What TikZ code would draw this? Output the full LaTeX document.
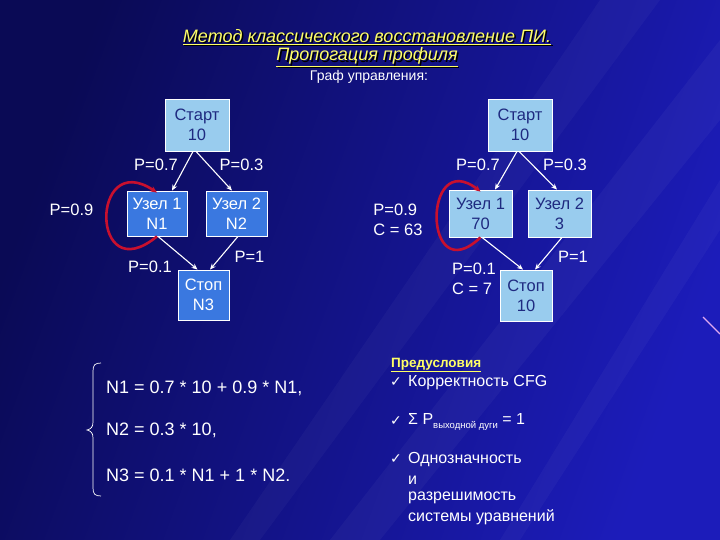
\documentclass[tikz,border=0pt]{standalone}
\usepackage{fontspec}
\setmainfont{Liberation Sans}
\newfontfamily\symfont{DejaVu Sans}
\usetikzlibrary{arrows.meta}
\definecolor{bgdark}{HTML}{0A0A55}
\definecolor{bgmid}{HTML}{1212A0}
\definecolor{bglight}{HTML}{1C1CBA}
\definecolor{lightbox}{HTML}{99CCEE}
\definecolor{medbox}{HTML}{3A78E0}
\definecolor{boxtext}{HTML}{1F2A80}
\definecolor{titleyellow}{HTML}{FFFF66}
\definecolor{loopred}{HTML}{C8102E}
\definecolor{streak}{HTML}{E0A8F0}
\tikzset{
  boxbase/.style={draw=white, line width=0.8pt, align=center, inner sep=0pt,
    font=\fontsize{16.5}{20}\selectfont},
  lbox/.style={boxbase, fill=lightbox, text=boxtext},
  mbox/.style={boxbase, fill=medbox, text=white},
  plabel/.style={text=white, align=left, inner sep=0pt, font=\fontsize{16.5}{20}\selectfont},
  flow/.style={draw=white, line width=1.1pt, -{Stealth[length=6pt,width=5pt]}},
  loop/.style={draw=loopred, line width=2.6pt, -{Stealth[length=7pt,width=6pt]}},
  eq/.style={text=white, anchor=west, inner sep=0pt, font=\fontsize{18}{21}\selectfont},
  rtext/.style={text=white, anchor=west, inner sep=0pt, font=\fontsize{16}{19}\selectfont},
  chk/.style={text=white, anchor=west, inner sep=0pt, font=\symfont\fontsize{14}{15}\selectfont},
  ttl/.style={inner sep=0pt, font=\itshape\fontsize{18}{21}\selectfont}
}
\begin{document}
\begin{tikzpicture}[x=1pt,y=-1pt]
% background
\shade[left color=bgdark, right color=bglight, shading angle=70] (0,0) rectangle (720,540);
\useasboundingbox (0,0) rectangle (720,540);
\fill[white, opacity=0.035] (720,40) -- (720,120) -- (380,540) -- (330,540) -- cycle;
\fill[white, opacity=0.03] (600,0) -- (660,0) -- (260,540) -- (230,540) -- cycle;
\fill[white, opacity=0.03] (720,180) -- (720,230) -- (520,540) -- (500,540) -- cycle;
\draw[streak, line width=1.2pt] (703,317) -- (720,334);

% title
\node[ttl, text=black] (t1s) at (368.5,38.5) {\underline{Метод классического восстановление ПИ.}};
\node[ttl, text=titleyellow] (t1) at (367,37) {\underline{Метод классического восстановление ПИ.}};
\node[ttl, text=black] (t2s) at (368.5,58.5) {\underline{Пропогация профиля}};
\node[ttl, text=titleyellow] (t2) at (367,57) {\underline{Пропогация профиля}};
\node[text=white, inner sep=0pt, font=\fontsize{14}{16}\selectfont] (t3) at (369,77) {Граф управления:};

% left graph
\node[lbox, minimum width=64pt, minimum height=52pt] (sL) at (197,125) {Старт\\10};
\node[mbox, minimum width=60pt, minimum height=45pt] (n1L) at (157,213.5) {Узел 1\\N1};
\node[mbox, minimum width=61pt, minimum height=45pt] (n2L) at (236.5,213.5) {Узел 2\\N2};
\node[mbox, minimum width=51pt, minimum height=50pt] (stL) at (203.5,295) {Стоп\\N3};

\draw[flow] ([xshift=-4pt]sL.south) -- ([xshift=15pt]n1L.north);
\draw[flow] ([xshift=-1pt]sL.south) -- ([xshift=-4.5pt]n2L.north);
\draw[flow] ([xshift=1pt]n1L.south) -- ([xshift=-6pt]stL.north);
\draw[flow] ([xshift=1.5pt]n2L.south) -- ([xshift=6.5pt]stL.north);
\draw[loop] (n1L.south) .. controls +(-67,55) and +(-67,-45) .. ([yshift=-2pt]n1L.north);

\node[plabel] (pL7) at (156,165) {P=0.7};
\node[plabel] (pL3) at (241.5,165) {P=0.3};
\node[plabel] (pL9) at (71.5,210) {P=0.9};
\node[plabel] (pL1) at (150,267) {P=0.1};
\node[plabel] (pLe) at (249.5,257) {P=1};

% right graph
\node[lbox, minimum width=64pt, minimum height=52pt] (sR) at (520,125) {Старт\\10};
\node[lbox, minimum width=63pt, minimum height=47pt] (n1R) at (480.5,213.5) {Узел 1\\70};
\node[lbox, minimum width=63pt, minimum height=47pt] (n2R) at (559.5,213.5) {Узел 2\\3};
\node[lbox, minimum width=52pt, minimum height=51pt] (stR) at (526,295.5) {Стоп\\10};

\draw[flow] ([xshift=-3pt]sR.south) -- ([xshift=14.5pt]n1R.north);
\draw[flow] ([xshift=-1pt]sR.south) -- ([xshift=-2.5pt]n2R.north);
\draw[flow] ([xshift=1.5pt]n1R.south) -- ([xshift=-3pt]stR.north);
\draw[flow] ([xshift=2.5pt]n2R.south) -- ([xshift=9pt]stR.north);
\draw[loop] (n1R.south) .. controls +(-58,55) and +(-58,-45) .. ([yshift=-2pt]n1R.north);

\node[plabel] (pR7) at (478,165) {P=0.7};
\node[plabel] (pR3) at (565,165) {P=0.3};
\node[plabel] (pR9) at (398,220) {P=0.9\\C = 63};
\node[plabel] (pR1) at (474,279) {P=0.1\\C = 7};
\node[plabel] (pRe) at (573,257) {P=1};

% equations
\draw[white, line width=0.7pt] (101,363) .. controls (95,363) and (93,365) .. (93,371)
  -- (93,422) .. controls (93,427) and (91,429) .. (87,430)
  .. controls (91,431) and (93,433) .. (93,438)
  -- (93,488) .. controls (93,494) and (95,496) .. (101,496);
\node[eq] (e1) at (106,388) {N1 = 0.7 * 10 + 0.9 * N1,};
\node[eq] (e2) at (106,430) {N2 = 0.3 * 10,};
\node[eq] (e3) at (106,475) {N3 = 0.1 * N1 + 1 * N2.};

% preconditions
\node[text=titleyellow, anchor=west, inner sep=0pt, font=\bfseries\fontsize{13.5}{15}\selectfont] (pre) at (391,365) {\underline{Предусловия}};
\node[chk] (c1) at (390,382) {✓};
\node[rtext] (r1) at (408,383) {Корректность CFG};
\node[chk] (c2) at (390,421) {✓};
\node[rtext] (r2) at (408,422) {Σ P\raisebox{-4pt}{\fontsize{9.5}{10}\selectfont выходной дуги} = 1};
\node[chk] (c3) at (390,459) {✓};
\node[rtext] (r3) at (408,460) {Однозначность};
\node[rtext] (r4) at (408,480) {и};
\node[rtext] (r5) at (408,498) {разрешимость};
\node[rtext] (r6) at (408,517) {системы уравнений};
\end{tikzpicture}
\end{document}
